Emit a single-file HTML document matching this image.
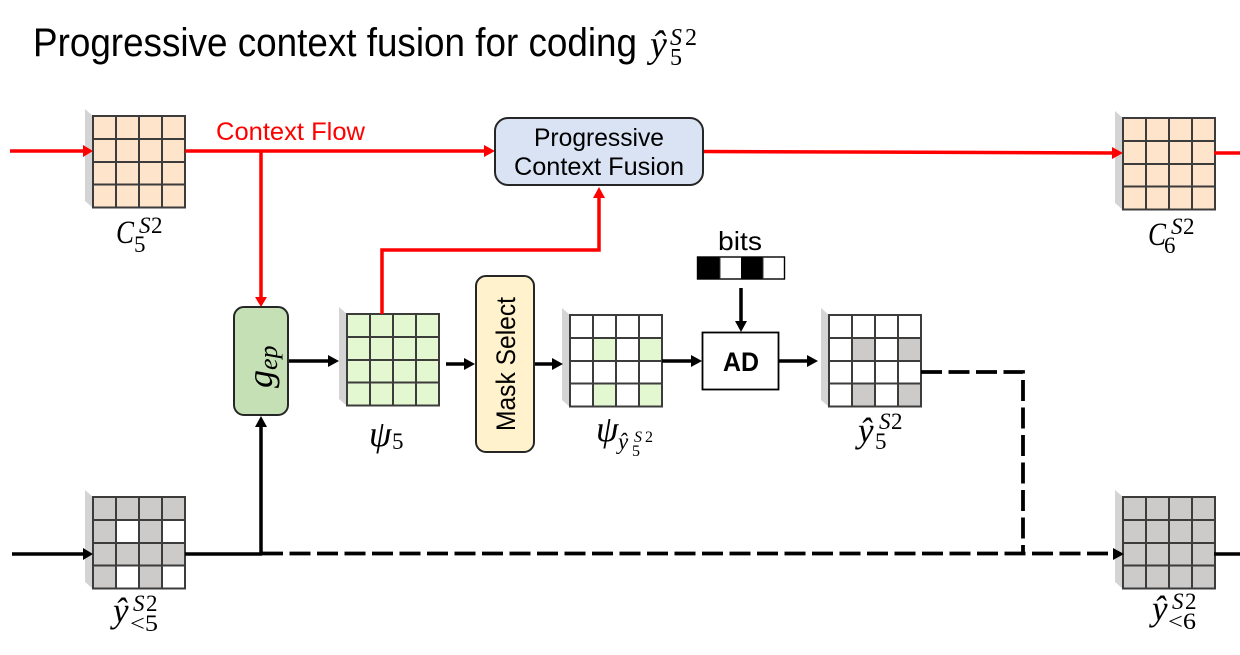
<!DOCTYPE html>
<html>
<head>
<meta charset="utf-8">
<style>
html,body{margin:0;padding:0;background:#fff;width:1240px;height:655px;overflow:hidden}
svg{display:block}
.s{font-family:"Liberation Sans",sans-serif}
.m{font-family:"Liberation Serif",serif;font-style:italic}
.n{font-family:"Liberation Serif",serif}
</style>
</head>
<body>
<svg width="1240" height="655" viewBox="0 0 1240 655" xmlns="http://www.w3.org/2000/svg">
<defs>
<g id="grid">
<polygon points="-8,-7 0,0 0,92 -8,85" fill="#d4d4d4"/>
<g stroke="#3c3c3c" stroke-width="2" fill="none">
<rect x="0" y="0" width="92" height="91.5"/>
<path d="M23 0V91.5M46 0V91.5M69 0V91.5M0 23H92M0 46H92M0 68.500H92"/>
</g>
</g>
</defs>

<text class="s" x="33" y="56" font-size="40" textLength="604" lengthAdjust="spacingAndGlyphs" fill="#000">Progressive context fusion for coding</text>
<text class="m" x="650" y="57" font-size="38">ŷ</text>
<text class="m" x="670" y="45" font-size="24">S</text><text class="n" x="685" y="45" font-size="24">2</text>
<text class="n" x="670" y="65" font-size="24">5</text>

<!-- C5 -->
<rect x="93" y="116" width="92" height="92" fill="#fee4ca"/>
<use href="#grid" x="93" y="116"/>
<!-- C6 -->
<rect x="1123" y="118" width="92" height="91" fill="#fee4ca"/>
<use href="#grid" x="1123" y="118"/>
<!-- y<5 -->
<rect x="93" y="497" width="92" height="92" fill="#cdcaca"/>
<rect x="116" y="520" width="23" height="23" fill="#fff"/>
<rect x="162" y="520" width="23" height="23" fill="#fff"/>
<rect x="116" y="566" width="23" height="23" fill="#fff"/>
<rect x="162" y="566" width="23" height="23" fill="#fff"/>
<use href="#grid" x="93" y="497"/>
<!-- y<6 -->
<rect x="1123" y="497" width="92" height="92" fill="#cdcaca"/>
<use href="#grid" x="1123" y="497"/>
<!-- psi5 -->
<rect x="347" y="314" width="92" height="92" fill="#e3f8d0"/>
<use href="#grid" x="347" y="314"/>
<!-- psi mask -->
<rect x="593" y="339" width="23" height="23" fill="#e3f8d0"/>
<rect x="639" y="339" width="23" height="23" fill="#e3f8d0"/>
<rect x="593" y="384" width="23" height="22" fill="#e3f8d0"/>
<rect x="639" y="384" width="23" height="22" fill="#e3f8d0"/>
<use href="#grid" x="570" y="315"/>
<!-- y5 -->
<rect x="852" y="339" width="23" height="23" fill="#cdcaca"/>
<rect x="898" y="339" width="23" height="23" fill="#cdcaca"/>
<rect x="852" y="384" width="23" height="22" fill="#cdcaca"/>
<rect x="898" y="384" width="23" height="22" fill="#cdcaca"/>
<use href="#grid" x="829" y="315"/>

<!-- red lines -->
<g stroke="#ff0000" stroke-width="3.500" fill="none">
<path d="M10 151H84"/>
<path d="M185 151H487"/>
<path d="M261 151V298"/>
<path d="M703 151.500L1116 153"/>
<path d="M1214 153H1240"/>
<path d="M382 314V250H599V197"/>
</g>
<g fill="#ff0000">
<polygon points="83,145 93,151 83,157"/>
<polygon points="484,145 495,151 484,157"/>
<polygon points="255,297 267,297 261,307"/>
<polygon points="1112,147 1123,153 1112,159"/>
<polygon points="593,198 605,198 599,187"/>
</g>

<!-- black lines -->
<g stroke="#000" stroke-width="3.500" fill="none">
<path d="M12 554H84"/>
<path d="M185 554H262"/>
<path d="M261 554V424"/>
<path d="M288 361H331"/>
<path d="M446 364H466"/>
<path d="M535 364H556"/>
<path d="M662 361H693"/>
<path d="M741 288V322"/>
<path d="M779 361H810"/>
<path d="M1214 554H1240"/>
</g>
<g stroke="#000" stroke-width="3.800" fill="none" stroke-dasharray="21 6.500">
<path d="M262 553.500H1113"/>
<path d="M921 372H1023V553" />
</g>
<g fill="#000">
<polygon points="83,548 93,554 83,560"/>
<polygon points="255,427 267,427 261,416"/>
<polygon points="328,355 339,361 328,367"/>
<polygon points="464,358 475,364 464,370"/>
<polygon points="552,358 563,364 552,370"/>
<polygon points="691,355 702,361 691,367"/>
<polygon points="735,321 747,321 741,332"/>
<polygon points="807,355 818,361 807,367"/>
<polygon points="1113,548 1124,554 1113,560"/>
</g>

<!-- PCF box -->
<rect x="495" y="118" width="208" height="67" rx="13" fill="#dae3f3" stroke="#262626" stroke-width="2"/>
<text class="s" x="599" y="146" font-size="25" text-anchor="middle" textLength="130" lengthAdjust="spacingAndGlyphs">Progressive</text>
<text class="s" x="599" y="175" font-size="25" text-anchor="middle" textLength="170" lengthAdjust="spacingAndGlyphs">Context Fusion</text>

<text class="s" x="216" y="140" font-size="25" fill="#ff0000" textLength="149" lengthAdjust="spacingAndGlyphs">Context Flow</text>

<!-- g_ep -->
<rect x="234" y="307" width="54" height="108" rx="10" fill="#c5e0b4" stroke="#262626" stroke-width="2"/>
<g transform="translate(272,388) rotate(-90)">
<text class="m" x="0" y="0" font-size="36">g</text>
<text class="m" x="18" y="5" font-size="26">ep</text>
</g>

<!-- Mask select -->
<rect x="476" y="276" width="58" height="176" rx="10" fill="#fff2cc" stroke="#262626" stroke-width="2"/>
<text class="s" transform="translate(515,364) rotate(-90)" x="0" y="0" font-size="27" text-anchor="middle" textLength="134" lengthAdjust="spacingAndGlyphs">Mask Select</text>

<!-- AD -->
<rect x="702.500" y="332.500" width="76" height="57" fill="#fff" stroke="#000" stroke-width="1.800"/>
<text class="s" x="741" y="371" font-size="27" font-weight="bold" text-anchor="middle" textLength="36" lengthAdjust="spacingAndGlyphs">AD</text>

<!-- bits -->
<text class="s" x="740" y="250" font-size="26" text-anchor="middle" textLength="44" lengthAdjust="spacingAndGlyphs">bits</text>
<rect x="697.500" y="257" width="87" height="22" fill="#fff" stroke="#000" stroke-width="1.400"/>
<rect x="697" y="257" width="23" height="22" fill="#000"/>
<rect x="741" y="257" width="22" height="22" fill="#000"/>
<path d="M720 257V279M763 257V279" stroke="#333" stroke-width="1"/>

<!-- Labels -->
<text class="m" x="116" y="243" font-size="33" textLength="18" lengthAdjust="spacingAndGlyphs">C</text>
<text class="m" x="139" y="233" font-size="23">S</text><text class="n" x="151" y="233" font-size="23">2</text>
<text class="n" x="134" y="252" font-size="23">5</text>

<text class="m" x="1148" y="245" font-size="33" textLength="18" lengthAdjust="spacingAndGlyphs">C</text>
<text class="m" x="1171" y="234" font-size="23">S</text><text class="n" x="1183" y="234" font-size="23">2</text>
<text class="n" x="1164" y="253" font-size="23">6</text>

<text class="m" x="369" y="446" font-size="36">ψ</text>
<text class="n" x="392" y="449" font-size="23">5</text>

<text class="m" x="596" y="441" font-size="36">ψ</text>
<text class="m" x="618" y="449" font-size="23">ŷ</text>
<text class="m" x="634" y="442" font-size="16">S</text><text class="n" x="645" y="442" font-size="16">2</text>
<text class="n" x="632" y="456" font-size="16">5</text>

<text class="m" x="858" y="442" font-size="35">ŷ</text>
<text class="m" x="879" y="429" font-size="23">S</text><text class="n" x="891" y="429" font-size="23">2</text>
<text class="n" x="875" y="449" font-size="23">5</text>

<text class="m" x="113" y="622" font-size="35">ŷ</text>
<text class="m" x="133" y="611" font-size="23">S</text><text class="n" x="146" y="611" font-size="23">2</text>
<text class="n" x="130" y="631" font-size="23" textLength="28" lengthAdjust="spacingAndGlyphs">&lt;5</text>

<text class="m" x="1152" y="620" font-size="35">ŷ</text>
<text class="m" x="1172" y="609" font-size="23">S</text><text class="n" x="1185" y="609" font-size="23">2</text>
<text class="n" x="1168" y="629" font-size="23" textLength="28" lengthAdjust="spacingAndGlyphs">&lt;6</text>
</svg>
</body>
</html>
